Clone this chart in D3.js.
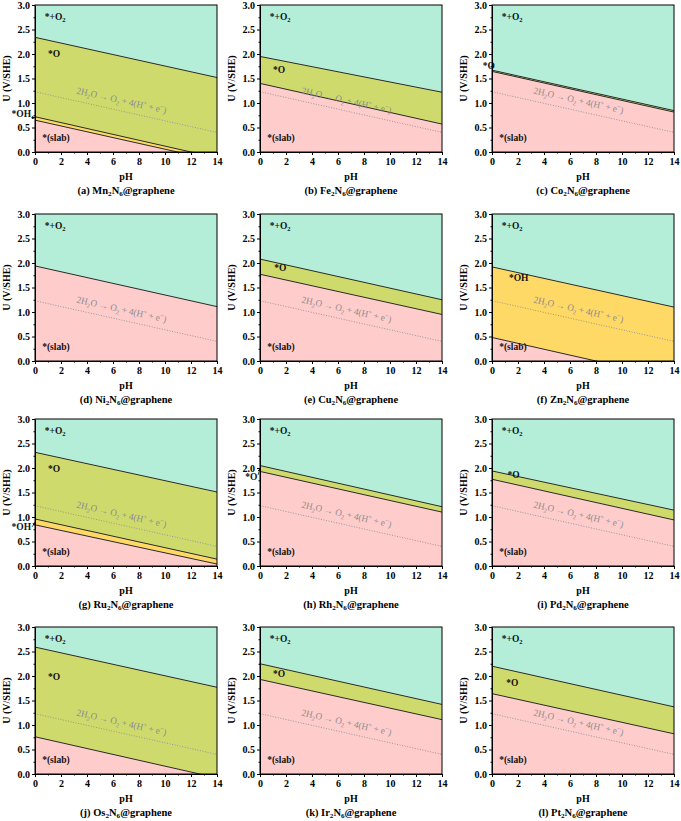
<!DOCTYPE html>
<html lang="en">
<head>
<meta charset="utf-8" />
<title>Pourbaix diagrams</title>
<script src="https://d3js.org/d3.v7.min.js"></script>
<style>
  body{margin:0;background:#fff;}
  svg text{font-family:"Liberation Serif","Times New Roman",serif;}
</style>
</head>
<body>
<div id="myDiv"></div>
<script>
// metal of each panel, reading order
var metals = ["Mn","Fe","Co","Ni","Cu","Zn","Ru","Rh","Pd","Os","Ir","Pt"];
var letters = ["a","b","c","d","e","f","g","h","i","j","k","l"];
var pHTicks = [0,2,4,6,8,10,12,14];
var pHMinor = [1,3,5,7,9,11,13];
var uTicks = [0,0.5,1,1.5,2,2.5,3];
var uMinor = [0.25,0.75,1.25,1.75,2.25,2.75];
// water oxidation line: U at pH 0 and pH 14
var waterLine = [1.23, 0.40];
// phase boundaries from top to bottom: [U at pH 0, U at pH 14]
var boundaries = [
  [[2.34,1.52],[0.72,-0.12],[0.65,-0.18]],
  [[1.95,1.22],[1.40,0.57]],
  [[1.67,0.845],[1.645,0.815]],
  [[1.94,1.11]],
  [[2.08,1.25],[1.77,0.95]],
  [[1.92,1.10],[0.48,-0.36]],
  [[2.32,1.51],[0.96,0.14],[0.84,0.04]],
  [[2.05,1.21],[1.93,1.10]],
  [[1.94,1.14],[1.77,0.94]],
  [[2.59,1.77],[0.76,-0.08]],
  [[2.25,1.42],[1.93,1.11]],
  [[2.20,1.37],[1.64,0.82]]
];
// stable phases from top to bottom
var phases = [
  ["O2","O","OH","slab"],
  ["O2","O","slab"],
  ["O2","O","slab"],
  ["O2","slab"],
  ["O2","O","slab"],
  ["O2","OH","slab"],
  ["O2","O","OH","slab"],
  ["O2","O","slab"],
  ["O2","O","slab"],
  ["O2","O","slab"],
  ["O2","O","slab"],
  ["O2","O","slab"]
];
// labels of the middle phases: [phase, pH, U, anchor, arrow(pH0,U0,pH1,U1)]
var midLabels = [
  [["O",1.0,1.93],["OH",-0.3,0.72,"end",[-0.3,0.70,0,0.70]]],
  [["O",1.0,1.62]],
  [["O",0.22,1.69,"end"]],
  [],
  [["O",1.1,1.83]],
  [["OH",1.3,1.63]],
  [["O",1.0,1.92],["OH",-0.3,0.74,"end",[-0.22,0.80,0,0.89]]],
  [["O",-0.2,1.75,"end",[-0.15,1.86,0,1.99]]],
  [["O",1.2,1.80]],
  [["O",1.0,1.92]],
  [["O",1.0,1.98]],
  [["O",1.1,1.80]]
];

var phaseColor = {O2:"#b4eed9", O:"#cedb6c", OH:"#ffd966", slab:"#ffcccc"};
var phaseText = {
  O2:[["*+O","n"],["2","sub"]],
  O:[["*O","n"]],
  OH:[["*OH","n"]],
  slab:[["*(slab)","n"]]
};

var colLeft = [35, 260, 492], rowTop = [5, 214, 419, 627];
var pw = 182, phh = 147;

// writes text made of normal / sub / super parts
function richText(t, parts, fs, sub){
  var shift = 0;
  parts.forEach(function(p){
    var s = p[1]=="sub" ? (sub||0.28)*fs : (p[1]=="sup" ? -0.38*fs : 0);
    t.append("tspan")
      .attr("dy", s - shift)
      .attr("font-size", p[1]=="n" ? fs : fs*0.68)
      .text(p[0]);
    shift = s;
  });
}

var svg = d3.select("#myDiv").append("svg")
  .attr("width",681).attr("height",821);

var defs = svg.append("defs");
defs.append("marker").attr("id","arr")
  .attr("viewBox","0 0 6 6").attr("refX",5.5).attr("refY",3)
  .attr("markerWidth",4).attr("markerHeight",4).attr("orient","auto")
  .append("path").attr("d","M0,0L6,3L0,6Z").attr("fill","#111");

metals.forEach(function(m, i){
  var left = colLeft[i%3], top = rowTop[Math.floor(i/3)];
  var x = d3.scaleLinear().domain([0,14]).range([left, left+pw]);
  var y = d3.scaleLinear().domain([0,3]).range([top+phh, top]);
  var g = svg.append("g");

  defs.append("clipPath").attr("id","clip"+i)
    .append("rect").attr("x",x(0)).attr("y",y(3))
    .attr("width",x(14)-x(0)).attr("height",y(0)-y(3));

  var plot = g.append("g").attr("clip-path","url(#clip"+i+")");
  var ph = phases[i], bd = boundaries[i];

  // bottom phase fills the whole box, then paint upward
  plot.append("rect").attr("x",x(0)).attr("y",y(3))
    .attr("width",x(14)-x(0)).attr("height",y(0)-y(3))
    .attr("fill",phaseColor[ph[ph.length-1]]);

  var area = d3.area().x(function(d){return x(d[0]);})
    .y0(y(3)).y1(function(d){return y(d[1]);});
  var line = d3.line().x(function(d){return x(d[0]);})
    .y(function(d){return y(d[1]);});

  for (var k = bd.length-1; k >= 0; k--){
    plot.append("path").datum([[0,bd[k][0]],[14,bd[k][1]]])
      .attr("d",area).attr("fill",phaseColor[ph[k]]);
  }
  bd.forEach(function(b){
    plot.append("path").datum([[0,b[0]],[14,b[1]]])
      .attr("d",line).attr("fill","none")
      .attr("stroke","#2a2a2a").attr("stroke-width",1);
  });

  // water oxidation line
  plot.append("path").datum([[0,waterLine[0]],[14,waterLine[1]]])
    .attr("d",line).attr("fill","none")
    .attr("stroke","#8f8f8f").attr("stroke-width",0.9)
    .attr("stroke-dasharray","1,1.6");

  var ang = Math.atan2(y(waterLine[1])-y(waterLine[0]), x(14)-x(0))*180/Math.PI;
  var pos = "translate("+x(6.6)+","+y(0.99)+") rotate("+ang+")";
  var wt = g.append("text").attr("transform",pos)
    .attr("text-anchor","middle").attr("fill","#8c8c8c");
  richText(wt, [["2H","n"],["2","sub"],["O \u2192 O","n"],["2","sub"],[" + 4(H","n"],
    ["+","sup"],[" + e","n"],["\u2212","sup"],[")","n"]], 9.5);
  // squeeze the label a little to the width it has in the figure
  var bw = wt.node().getBBox().width;
  wt.attr("transform", pos+" scale("+Math.min(1, 92/bw)+",1)");

  // phase labels
  var lab = [["O2",0.75,2.70],["slab",0.55,0.22]].concat(midLabels[i]);
  lab.forEach(function(l){
    var t = g.append("text").attr("x",x(l[1])).attr("y",y(l[2]))
      .attr("dy","0.33em").attr("font-weight","bold").attr("fill","#111")
      .attr("text-anchor",l[3]||"start");
    richText(t, phaseText[l[0]], 9.5);
    if (l[4]){
      g.append("line").attr("x1",x(l[4][0])).attr("y1",y(l[4][1]))
        .attr("x2",x(l[4][2])).attr("y2",y(l[4][3]))
        .attr("stroke","#111").attr("stroke-width",0.8)
        .attr("marker-end","url(#arr)");
    }
  });

  // frame
  g.append("rect").attr("x",x(0)).attr("y",y(3))
    .attr("width",x(14)-x(0)).attr("height",y(0)-y(3))
    .attr("fill","none").attr("stroke","#000").attr("stroke-width",1);

  // axes
  g.append("g").attr("transform","translate(0,"+y(0)+")")
    .call(d3.axisBottom(x).tickValues(pHTicks).tickSize(3).tickSizeOuter(0).tickPadding(3));
  g.append("g").attr("transform","translate(0,"+y(0)+")")
    .call(d3.axisBottom(x).tickValues(pHMinor).tickSize(1.5).tickFormat(""))
    .select(".domain").remove();
  g.append("g").attr("transform","translate("+x(0)+",0)")
    .call(d3.axisLeft(y).tickValues(uTicks).tickSize(3).tickSizeOuter(0)
      .tickPadding(2).tickFormat(d3.format(".1f")));
  g.append("g").attr("transform","translate("+x(0)+",0)")
    .call(d3.axisLeft(y).tickValues(uMinor).tickSize(1.5).tickFormat(""))
    .select(".domain").remove();
  g.selectAll(".tick text").attr("font-family","Liberation Serif")
    .attr("font-weight","bold").attr("font-size",10).attr("fill","#000");

  // axis titles
  g.append("text").attr("x",x(7)).attr("y",y(0)+28)
    .attr("text-anchor","middle").attr("font-weight","bold").attr("font-size",10)
    .text("pH");
  g.append("text")
    .attr("transform","translate("+(left-25.5)+","+(top+phh/2)+") rotate(-90)")
    .attr("text-anchor","middle").attr("font-weight","bold").attr("font-size",10)
    .text("U (V/SHE)");

  // caption
  var cap = g.append("text").attr("x",x(7)).attr("y",y(0)+42)
    .attr("text-anchor","middle").attr("font-weight","bold");
  richText(cap, [["("+letters[i]+") "+m,"n"],["2","sub"],["N","n"],["6","sub"],["@graphene","n"]], 10.5, 0.2);
});
</script>
</body>
</html>
